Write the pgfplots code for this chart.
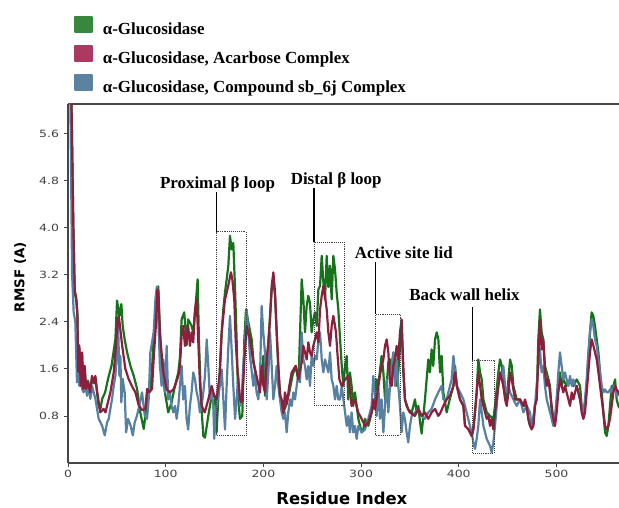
\documentclass[border=0pt]{standalone}
\usepackage{fontspec}
\setmainfont{Liberation Serif}
\newfontfamily\labfont{DejaVu Sans}
\newfontfamily\tickfont{DejaVu Sans}[FakeStretch=1.25]
\usepackage{pgfplots}
\pgfplotsset{compat=1.18}
\definecolor{cG}{RGB}{22,115,28}
\definecolor{cR}{RGB}{140,30,62}
\definecolor{cB}{RGB}{88,128,160}
\definecolor{lG}{RGB}{55,135,62}
\definecolor{lR}{RGB}{172,58,96}
\definecolor{lB}{RGB}{92,130,162}
\definecolor{spine}{RGB}{70,70,70}
\definecolor{tickc}{RGB}{64,64,64}
\begin{document}
\begin{tikzpicture}
\useasboundingbox (0,0) rectangle (619bp,508bp);
\begin{axis}[
  at={(68bp,45bp)}, anchor=south west,
  scale only axis, width=551bp, height=359bp,
  xmin=0, xmax=564, ymin=0, ymax=6.1,
  axis x line*=box, axis y line*=left,
  axis line style={spine, line width=1.2bp},
  xtick={0,100,...,500}, ytick={0.8,1.6,2.4,3.2,4.0,4.8,5.6},
  xtick pos=left, ytick pos=left,
  tick align=outside, major tick length=4bp,
  tick style={spine, line width=0.8bp},
  yticklabel style={/pgf/number format/fixed, /pgf/number format/fixed zerofill, /pgf/number format/precision=1, xshift=-1.5bp},
  /pgf/number format/assume math mode=true,
  ticklabel style={font=\tickfont\fontsize{10}{11}\selectfont, text=tickc},
  xlabel={Residue Index}, ylabel={RMSF (A)},
  every axis x label/.style={at={(axis description cs:0.497,-0.098)}, anchor=center, font=\labfont\bfseries\fontsize{16.5}{18}\selectfont},
  every axis y label/.style={at={(axis description cs:-0.087,0.518)}, anchor=center, rotate=90, font=\labfont\bfseries\fontsize{13.5}{15}\selectfont},
  legend style={at={(axis description cs:0.0109,1.245)}, anchor=north west, draw=none, fill=none,
    inner sep=0pt, outer sep=0pt, row sep=9bp, column sep=10bp,
    nodes={inner sep=0pt}, font=\bfseries\fontsize{17}{18}\selectfont},
  legend cell align=left,
  every axis plot/.append style={line width=2.2bp, line join=round},
  clip=true,
]
\addlegendimage{legend image code/.code={\fill[lG] (0bp,-2.4bp) rectangle (16.7bp,12.3bp);}}
\addlegendentry{α-Glucosidase}
\addlegendimage{legend image code/.code={\fill[lR] (0bp,-2.4bp) rectangle (16.7bp,12.3bp);}}
\addlegendentry{α-Glucosidase, Acarbose Complex}
\addlegendimage{legend image code/.code={\fill[lB] (0bp,-2.4bp) rectangle (16.7bp,12.3bp);}}
\addlegendentry{α-Glucosidase, Compound sb\_6j Complex}

% green: alpha-glucosidase
\addplot[cG, forget plot] coordinates {
(0,8) (3.5,6.2) (5.5,4.0) (6.9,2.9) (8.5,2.75) (9.6,2.5) (10.5,1.6) (11.6,1.95) (13,1.35) (14.4,1.85) (15.7,1.3) (17.1,1.6) (18.5,1.25) (20.5,1.4) (22.6,1.2) (24.6,1.45) (26.7,1.35) (28,1.45) (29.4,1.25) (31,1.0) (33,0.9) (35,1.09) (38,1.2) (41,1.43) (44.5,1.65) (48.5,2.1) (50.2,2.76) (52.6,2.5) (54.6,2.7) (56,2.33) (58,2.1) (60.5,1.88) (63.9,1.65) (67.3,1.48) (70.7,1.26) (74,0.86) (77.5,0.58) (80,0.9) (82.6,1.2) (84.3,1.25) (86,1.6) (88,2.2) (89.8,2.6) (91.2,2.95) (92.4,3.0) (94,2.3) (95.8,1.65) (99.2,1.2) (102.6,0.86) (106,1.03) (109.5,1.31) (112.9,1.54) (114.6,1.8) (116.3,2.44) (119,2.56) (121.4,2.0) (123,2.44) (126.5,2.33) (128.2,2.22) (130.6,2.67) (132.7,3.12) (134,2.1) (136.1,1.08) (138.5,0.46) (140.2,0.43) (143.6,0.8) (147,1.14) (150.4,1.14) (152.1,0.52) (153.8,1.08) (157.3,2.22) (159,2.61) (160.7,2.9) (162.4,3.12) (164.1,3.35) (165.8,3.86) (167.5,3.63) (169.2,3.74) (170.9,3.01) (172.6,2.1) (174.3,1.08) (176,0.75) (178.4,0.8) (180.5,2.1) (182.2,2.61) (184.6,2.39) (188,2.1) (189.7,1.76) (193,1.42) (196.5,1.3) (198.2,1.5) (200,1.82) (201.7,1.14) (203.4,1.65) (205.1,2.05) (206.8,2.5) (208.5,2.95) (210.2,3.1) (211.9,2.85) (213.6,2.22) (215.3,1.6) (217,1.2) (218.7,0.95) (220.4,0.86) (223,0.97) (226.5,1.2) (230,1.5) (233,1.65) (236,1.4) (237.5,2.2) (239.2,3.12) (240.9,2.78) (242.6,2.22) (244.3,2.67) (246,2.84) (247.7,2.72) (249.4,2.22) (251.1,2.44) (252.8,2.56) (254.6,2.33) (256.3,2.95) (258,3.01) (259.7,3.52) (261.4,3.07) (263.1,2.78) (264.8,3.52) (266.5,2.99) (268.2,3.35) (269.9,2.78) (271.6,3.52) (273.3,3.29) (275,2.9) (276.7,2.61) (278.5,2.1) (280.2,1.65) (281.9,1.31) (283.6,1.65) (285.3,1.82) (286.9,1.08) (288.6,1.54) (290.3,1.31) (292,0.97) (293.7,1.2) (297.2,0.75) (300.6,0.52) (302.3,0.57) (304,0.75) (307.4,0.63) (310.8,0.86) (314.2,1.08) (315.9,1.42) (317.6,1.31) (321,1.82) (322.8,1.54) (324.5,1.08) (326.2,1.31) (327.9,1.71) (329.6,1.76) (331.3,1.54) (333,1.88) (334.7,1.65) (336.4,1.31) (338.1,1.54) (339.8,1.99) (341.5,2.33) (343.2,1.54) (344.9,1.08) (348.3,0.91) (351.8,0.86) (355.2,1.08) (356.9,0.86) (358.6,0.97) (360.3,0.7) (362,0.5) (363.7,0.8) (365.4,1.08) (367.1,1.42) (368.8,1.76) (370.5,1.54) (372.2,1.93) (373.9,1.65) (375.7,2.1) (377.4,2.22) (379.1,2.1) (380.8,1.54) (382.5,1.82) (384.2,1.2) (387.6,0.86) (391,1.1) (394.5,1.31) (396.2,1.65) (398,1.31) (401.3,1.08) (404.7,0.97) (406.4,0.63) (410,0.57) (411.5,0.52) (413.2,0.46) (414.9,0.57) (416.6,0.86) (418.3,1.2) (420,1.76) (421.8,1.54) (423.5,1.42) (425.2,1.08) (428.6,0.86) (432,0.8) (435.4,0.75) (437.1,0.97) (440.5,1.54) (442.2,1.76) (444,1.65) (445.6,1.31) (449.1,1.08) (450.8,1.42) (452.5,1.76) (454.2,1.65) (455.9,1.31) (459.3,1.08) (462.7,1.08) (466.1,0.97) (469.5,0.97) (471.2,0.75) (473,0.63) (476.3,0.65) (478,1.0) (479.7,1.08) (481.4,2.1) (483.1,2.61) (484.8,2.22) (486.5,2.1) (488.2,1.65) (490,1.54) (491.7,1.42) (493.4,1.31) (495.1,0.86) (496.8,0.69) (498.5,0.75) (500.2,1.08) (503.6,1.54) (505.3,1.31) (507,1.42) (510.4,1.31) (513.9,1.42) (517.3,1.31) (520.7,1.42) (524.1,1.31) (525.8,0.97) (527.5,0.8) (529.2,0.97) (530.9,1.31) (532.6,1.76) (534.3,2.22) (536,2.56) (537.7,2.5) (539.4,2.33) (541.2,2.1) (542.9,1.88) (544.6,1.54) (546.3,1.2) (548,0.86) (549.7,0.52) (551.4,0.46) (553.1,0.63) (554.8,0.97) (556.5,1.31) (558.2,1.31) (560,1.42) (561.6,1.08) (563.3,0.97) (566,0.9)
};
% blue: compound sb_6j complex
\addplot[cB, forget plot] coordinates {
(0.5,8) (2.4,6.2) (4.2,3.2) (5.8,2.56) (7.5,2.4) (9.2,1.37) (10.3,1.65) (11.6,1.31) (13,1.54) (14.4,1.26) (16,1.2) (17.8,1.31) (19.5,1.14) (21.2,1.31) (22.9,1.09) (24.6,1.31) (26.3,1.2) (28,1.09) (29.7,0.92) (31.4,0.75) (34.8,0.64) (37.6,0.47) (40,0.69) (41.7,0.75) (43.4,0.92) (45.1,1.09) (46.8,1.31) (48.5,1.48) (50.2,1.88) (51.2,2.4) (52.6,1.48) (53.6,1.82) (54.6,1.03) (56,1.43) (58,1.2) (59.5,0.52) (61.5,0.75) (64,0.64) (66.3,0.47) (68.3,0.69) (70.7,0.81) (73,0.98) (75.8,1.2) (78.5,0.81) (80.9,0.75) (82.6,1.09) (84.3,1.88) (86,2.05) (87.7,2.22) (89.5,2.79) (91,3.0) (92.4,2.44) (94.1,1.65) (95.8,1.31) (97.5,1.76) (99.2,1.2) (101,1.99) (102.6,1.08) (104.4,1.2) (106,0.97) (107.8,0.86) (109.5,0.97) (111.2,0.75) (112.9,0.97) (114.6,1.31) (116.3,1.65) (118,1.08) (119.7,1.31) (121.4,0.75) (123,0.57) (124.8,0.97) (126.5,1.2) (128.2,1.54) (130,1.42) (131.7,1.2) (133.4,1.08) (135,0.86) (136.8,0.97) (138.5,1.2) (140.2,1.48) (142,2.1) (143.6,1.65) (145.3,1.08) (147,1.25) (148.7,0.97) (149.7,0.41) (151.1,0.86) (153.2,1.08) (155.5,1.31) (157.3,1.59) (159,1.08) (160.7,0.57) (162.4,1.31) (164,1.93) (165.8,2.5) (167.5,1.93) (169.2,1.31) (171,0.75) (172.6,1.08) (174.3,1.48) (176,0.97) (177.7,1.08) (179.4,1.65) (181.2,2.05) (182.9,2.61) (184.6,2.22) (186.3,1.82) (189.7,1.31) (191.4,1.54) (193,1.2) (194.8,1.08) (196.5,1.42) (198.2,2.67) (199.9,2.22) (201.6,1.88) (203.4,1.08) (205.1,1.54) (206.8,2.22) (208.5,1.65) (210.2,1.08) (211.9,1.31) (213.6,1.65) (215.3,1.31) (217,1.08) (218.7,0.86) (220.4,0.75) (222.1,0.86) (223.8,0.52) (225.5,0.86) (227.3,1.08) (229,0.97) (230.7,1.2) (232.4,1.08) (234.1,1.31) (235.8,1.54) (237.5,1.37) (239.2,2.22) (240.9,1.76) (242.6,1.65) (244.3,1.42) (246,1.65) (247.7,1.31) (249.4,1.82) (251.1,1.65) (252.8,1.82) (254.6,1.76) (256.3,2.1) (258,2.22) (259.7,1.76) (261.4,1.54) (263.1,1.76) (264.8,1.65) (266.5,1.54) (268.2,1.88) (269.9,1.42) (271.6,1.31) (273.3,1.08) (275,1.31) (276.7,1.08) (278.4,1.08) (280.2,1.31) (281.9,1.08) (283.6,0.86) (285.3,0.63) (287,0.8) (288.6,0.52) (290.3,0.86) (292,0.52) (293.7,0.63) (295.5,0.41) (297.2,0.63) (300.6,0.52) (304,0.57) (307.4,0.75) (310.8,0.97) (312.5,1.48) (314.2,1.2) (315.9,0.8) (317.6,1.31) (319.3,0.75) (321,1.08) (322.8,0.52) (324.5,0.97) (326.2,1.42) (327.9,0.86) (329.6,1.31) (331.3,1.65) (333,1.88) (334.7,1.31) (336.4,1.76) (338.1,1.31) (339.8,0.97) (341.5,0.52) (343.2,0.86) (344.9,0.75) (346.6,0.52) (348.3,0.35) (350,0.63) (351.8,0.8) (355.2,0.86) (358.6,0.92) (362,0.8) (365.4,0.75) (368.8,0.86) (372.2,0.92) (375.7,1.08) (379,1.2) (382.5,1.31) (384.2,1.08) (387.6,1.08) (391,1.31) (392.7,1.42) (394.5,1.82) (396.2,1.54) (398,1.31) (401.3,1.2) (404.7,1.08) (408,0.86) (411.5,0.63) (413.2,0.52) (414.9,0.35) (416.6,0.24) (418.3,0.41) (420,0.63) (421.8,1.08) (423.5,0.86) (425.2,0.63) (428.6,0.41) (432,0.29) (433.7,0.18) (435.4,0.35) (437.1,0.63) (438.8,0.97) (440.5,1.31) (442.2,1.54) (444,1.42) (445.6,1.65) (447.4,1.31) (449.1,1.2) (450.8,1.31) (452.5,1.2) (455.9,1.08) (459.3,0.97) (462.7,1.08) (466.1,0.86) (469.5,0.97) (473,0.86) (474.6,0.6) (478,0.97) (479.7,1.31) (481.4,1.65) (483.1,1.93) (484.8,1.54) (486.5,1.65) (488.2,1.31) (490,1.08) (491.7,0.97) (493.4,0.86) (495.1,0.75) (496.8,0.63) (498.5,0.75) (500.2,1.08) (501.9,1.54) (503.6,1.88) (505.3,1.65) (507,1.42) (508.7,1.54) (510.4,1.42) (512.2,1.31) (513.9,1.48) (515.6,1.31) (517.3,1.42) (519,1.31) (520.7,1.31) (522.4,1.2) (524.1,1.08) (525.8,0.97) (527.5,0.86) (529.2,1.08) (530.9,1.42) (532.6,1.88) (534.3,2.22) (536,2.44) (537.7,2.33) (539.4,2.1) (541.2,1.99) (542.9,1.76) (544.6,1.54) (546.3,1.31) (548,1.2) (549.7,1.25) (551.4,1.2) (553.1,1.2) (554.8,1.25) (556.5,1.2) (558.2,1.31) (560,1.31) (561.6,1.14) (563.3,1.2) (566,1.25)
};
% red: acarbose complex
\addplot[cR, forget plot] coordinates {
(1,8) (3.5,6.2) (5.5,4.0) (6.9,2.93) (8.5,2.8) (9.6,2.56) (10.5,1.55) (11.6,2.0) (13,1.31) (14.4,1.88) (15.7,1.26) (17.1,1.65) (18.5,1.26) (20.5,1.37) (22.6,1.2) (24.6,1.48) (26.7,1.37) (28,1.48) (29.4,1.26) (33,0.86) (36.5,0.92) (38.3,0.86) (43.4,1.2) (46.8,1.54) (48.5,1.88) (51,2.45) (52,2.5) (55.4,2.0) (58.7,1.6) (62,1.43) (65.6,1.3) (69,1.2) (72.4,0.98) (75.8,0.9) (79.2,0.92) (81,1.26) (83.3,1.2) (86,1.26) (87.8,1.8) (89.8,2.3) (91.5,2.95) (92.5,2.9) (94,2.22) (97.5,1.54) (101,1.25) (104.4,1.2) (107.8,1.25) (109.5,1.31) (113,1.48) (114.6,1.65) (116.3,2.16) (118,2.33) (119.7,1.99) (121.4,2.1) (123,2.33) (124.8,1.99) (126.5,2.22) (128.2,2.05) (130,2.61) (131.7,2.78) (133.4,2.05) (135,1.37) (136.8,0.97) (140,0.86) (143.6,1.08) (147,1.31) (149.7,1.14) (152,1.08) (153.8,1.31) (155.5,1.54) (157.3,2.22) (159,2.5) (160.7,2.78) (164,3.01) (166.8,3.24) (168.2,3.12) (170.2,2.78) (171.6,2.1) (173.6,1.54) (176,1.08) (177.7,1.03) (179.4,1.4) (181.2,1.93) (182.9,2.33) (186.3,2.1) (189.7,1.71) (193,1.48) (196.5,1.2) (198.2,1.65) (200,1.31) (201.7,1.2) (203.4,1.76) (205.1,2.05) (206.8,2.44) (208.5,3.01) (210.2,3.24) (211.9,2.9) (213.6,2.22) (215.3,1.65) (217,1.14) (218.7,1.08) (220.4,0.85) (222.1,1.2) (224,1.0) (226.5,1.31) (229,1.54) (233,1.65) (235.8,1.42) (239.2,1.71) (240.9,1.99) (242.6,1.88) (244.3,1.76) (246,2.05) (247.7,1.88) (249.4,1.82) (251.1,1.99) (252.8,2.1) (254.6,2.22) (256.3,2.05) (258,2.61) (259.7,2.84) (261.4,3.01) (263.1,2.84) (264.8,2.61) (266.5,2.22) (268.2,1.99) (269.9,2.33) (271.6,2.5) (273.3,2.33) (274.3,2.22) (275.7,1.88) (277.8,1.42) (280.2,1.31) (283.6,1.42) (287,1.48) (290.3,0.97) (293.7,1.08) (297,0.86) (300.6,0.75) (304,0.63) (307.4,0.69) (310.8,0.86) (312.5,1.08) (314.2,0.91) (315.9,1.08) (317.6,1.31) (321,1.65) (322.8,1.76) (324.5,1.99) (326.2,2.1) (327.9,1.88) (329.6,1.37) (331.3,1.31) (333,1.65) (334.7,1.76) (336.4,1.99) (338.1,1.76) (339.8,2.22) (341.5,2.44) (343.2,1.65) (344.9,1.08) (346.6,0.97) (349.8,0.86) (355,0.8) (358.6,0.92) (362,0.8) (365.4,0.86) (368.8,0.75) (372.2,0.86) (375.7,0.92) (379,0.8) (380.8,0.84) (384.2,0.97) (387.6,1.08) (391,1.14) (394.5,1.31) (396.2,1.54) (398,1.31) (399.6,1.2) (401.3,1.08) (404.7,0.97) (406.4,0.63) (410,0.57) (411.5,0.52) (413.2,0.46) (414.9,0.57) (416.6,0.86) (418.3,1.2) (420,1.54) (421.8,1.31) (423.5,1.08) (425.2,0.97) (426.9,0.86) (428.6,0.75) (430.3,0.8) (432,0.63) (433.7,0.75) (435.4,0.57) (437.1,0.86) (438.8,1.08) (440.5,1.31) (442.2,1.54) (444,1.42) (445.6,1.31) (447.4,1.08) (449.1,0.97) (450.8,1.2) (452.5,1.54) (454.2,1.42) (455.9,1.25) (457.6,1.08) (459.3,1.08) (462.7,1.08) (466.1,0.97) (467.8,1.08) (469.5,0.97) (471.2,0.75) (473,0.63) (474.6,0.57) (476.3,0.63) (478,0.97) (479.7,1.08) (481.4,1.76) (483.1,2.44) (484.8,1.93) (486.5,2.1) (488.2,1.54) (490,1.31) (491.7,1.42) (493.4,1.2) (495.1,0.97) (496.8,0.75) (498.5,0.63) (500.2,0.86) (501.9,1.2) (503.6,1.42) (505.3,1.31) (507,1.2) (508.7,1.31) (510.4,1.2) (512.2,1.08) (513.9,0.97) (515.6,1.2) (517.3,1.08) (519,1.2) (520.7,1.31) (522.4,1.2) (524.1,1.08) (525.8,0.86) (527.5,0.75) (529.2,0.86) (530.9,1.2) (532.6,1.54) (534.3,1.88) (536,2.1) (537.7,2.0) (539.4,1.88) (541.2,1.76) (542.9,1.54) (544.6,1.31) (546.3,1.08) (548,0.86) (549.7,0.63) (551.4,0.57) (553.1,0.63) (554.8,0.75) (556.5,0.97) (558.2,1.2) (560,1.31) (561.6,1.25) (563.3,1.2) (566,1.1)
};

% annotations: dotted region boxes, leader lines and labels
\begin{scope}[every node/.style={font=\bfseries\fontsize{17}{18}\selectfont, inner sep=0pt}]
\draw[densely dotted, line width=0.9bp, black!75] (axis cs:152.2,0.47) rectangle (axis cs:182.2,3.93);
\draw[line width=1.1bp] (axis cs:152.2,3.93) -- (axis cs:152.2,4.6);
\node[anchor=base] at (axis cs:153.0,4.666) {Proximal β loop};
\draw[densely dotted, line width=0.9bp, black!75] (axis cs:251.8,0.97) rectangle (axis cs:282.8,3.75);
\draw[line width=1.1bp] (axis cs:251.8,3.75) -- (axis cs:251.8,4.67);
\node[anchor=base] at (axis cs:274.5,4.74) {Distal β loop};
\draw[densely dotted, line width=0.9bp, black!75] (axis cs:315,0.47) rectangle (axis cs:339.8,2.53);
\draw[line width=1.1bp] (axis cs:315,2.53) -- (axis cs:315,3.42);
\node[anchor=base] at (axis cs:343.7,3.48) {Active site lid};
\draw[densely dotted, line width=0.9bp, black!75] (axis cs:413.8,0.17) rectangle (axis cs:436,1.75);
\draw[line width=1.1bp] (axis cs:413.8,1.75) -- (axis cs:413.8,2.65);
\node[anchor=base] at (axis cs:405.8,2.76) {Back wall helix};
\end{scope}
\end{axis}
\end{tikzpicture}
\end{document}
